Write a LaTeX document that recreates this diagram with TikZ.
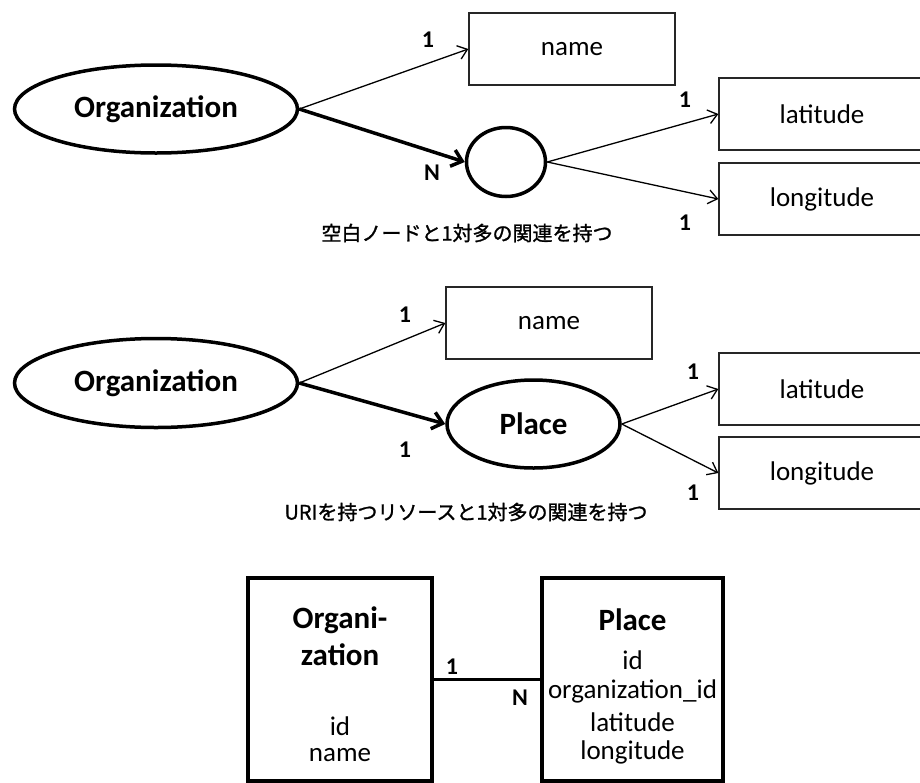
\documentclass[tikz,border=0pt]{standalone}
\usepackage{fontspec}
\setmainfont{Carlito}
\newfontfamily\cjk{Noto Sans CJK JP}[FakeBold=1.2]
\usetikzlibrary{shapes.geometric,arrows.meta}

\tikzset{
  ent/.style={ellipse, draw, line width=3.5pt, inner sep=0pt,
    font=\bfseries\fontsize{31}{37}\selectfont},
  litbox/.style={rectangle, draw=black!85, line width=1.3pt, inner sep=0pt,
    minimum width=206pt, minimum height=72pt,
    font=\fontsize{27}{32}\selectfont},
  rel/.style={-{Straight Barb[length=9pt,width=14pt]}, line width=1.3pt},
  relthick/.style={-{Straight Barb[length=10pt,width=17pt]}, line width=3.5pt},
  card/.style={font=\bfseries\fontsize{24}{28}\selectfont, inner sep=0pt},
  caption/.style={font=\cjk\fontsize{20}{24}\selectfont, inner sep=0pt},
  tbl/.style={rectangle, draw, line width=4.5pt, inner sep=0pt, minimum height=203pt},
  tblhead/.style={font=\bfseries\fontsize{31}{37}\selectfont, inner sep=0pt},
  tblcol/.style={font=\fontsize{27}{32}\selectfont, inner sep=0pt},
}

\begin{document}
\begin{tikzpicture}[x=1pt,y=-1pt]
\useasboundingbox[fill=white] (0,0) rectangle (920,782);

% --- blank node with one-to-many link ---
\node[ent, minimum width=283pt, minimum height=88pt] (org1) at (156,109) {Organization};
\node[litbox] (name1) at (572,49) {name};
\node[ent, minimum width=79pt, minimum height=69pt] (blank) at (506,162) {};
\node[litbox] (lat1) at (822,114) {latitude};
\node[litbox] (lon1) at (822,199) {longitude};

\draw[rel] (org1.east) -- (name1.west);
\draw[relthick] (org1.east) -- (blank.west);
\draw[rel] (blank.east) -- (lat1.west);
\draw[rel] (blank.east) -- (lon1.west);

\node[card] (c1a) at (428,40) {1};
\node[card] (c1b) at (432,173) {N};
\node[card] (c1c) at (685,100) {1};
\node[card] (c1d) at (685,223) {1};
\node[caption] (cap1) at (467,233) {空白ノードと1対多の関連を持つ};

% --- resource with URI ---
\node[ent, minimum width=283pt, minimum height=89pt] (org2) at (156,383) {Organization};
\node[litbox] (name2) at (549,323) {name};
\node[ent, minimum width=173pt, minimum height=88pt] (place) at (533.5,424) {Place};
\node[litbox] (lat2) at (822,389) {latitude};
\node[litbox] (lon2) at (822,473) {longitude};

\draw[rel] (org2.east) -- (name2.west);
\draw[relthick] (org2.east) -- (place.west);
\draw[rel] (place.east) -- (lat2.west);
\draw[rel] (place.east) -- (lon2.west);

\node[card] (c2a) at (405,315) {1};
\node[card] (c2b) at (405,450) {1};
\node[card] (c2c) at (693,372) {1};
\node[card] (c2d) at (693,493) {1};
\node[caption] (cap2) at (466,512) {URIを持つリソースと1対多の関連を持つ};

% --- relational tables ---
\node[tbl, minimum width=184pt] (orgT) at (340,679.5) {};
\node[tbl, minimum width=181pt] (placeT) at (632.5,679.5) {};
\draw[line width=2.5pt] (orgT.east) -- (placeT.west);
\node[card] (c3a) at (452,667) {1};
\node[card] (c3b) at (520,698) {N};

\node[tblhead] (oh1) at (340,620) {Organi-};
\node[tblhead] (oh2) at (340,655) {zation};
\node[tblcol] (oc1) at (340,726) {id};
\node[tblcol] (oc2) at (340,755) {name};

\node[tblhead] (ph) at (632.5,620) {Place};
\node[tblcol] (pc1) at (632.5,660) {id};
\node[tblcol] (pc2) at (632.5,691) {organization\_id};
\node[tblcol] (pc3) at (632.5,722) {latitude};
\node[tblcol] (pc4) at (632.5,752) {longitude};
\end{tikzpicture}
\end{document}
